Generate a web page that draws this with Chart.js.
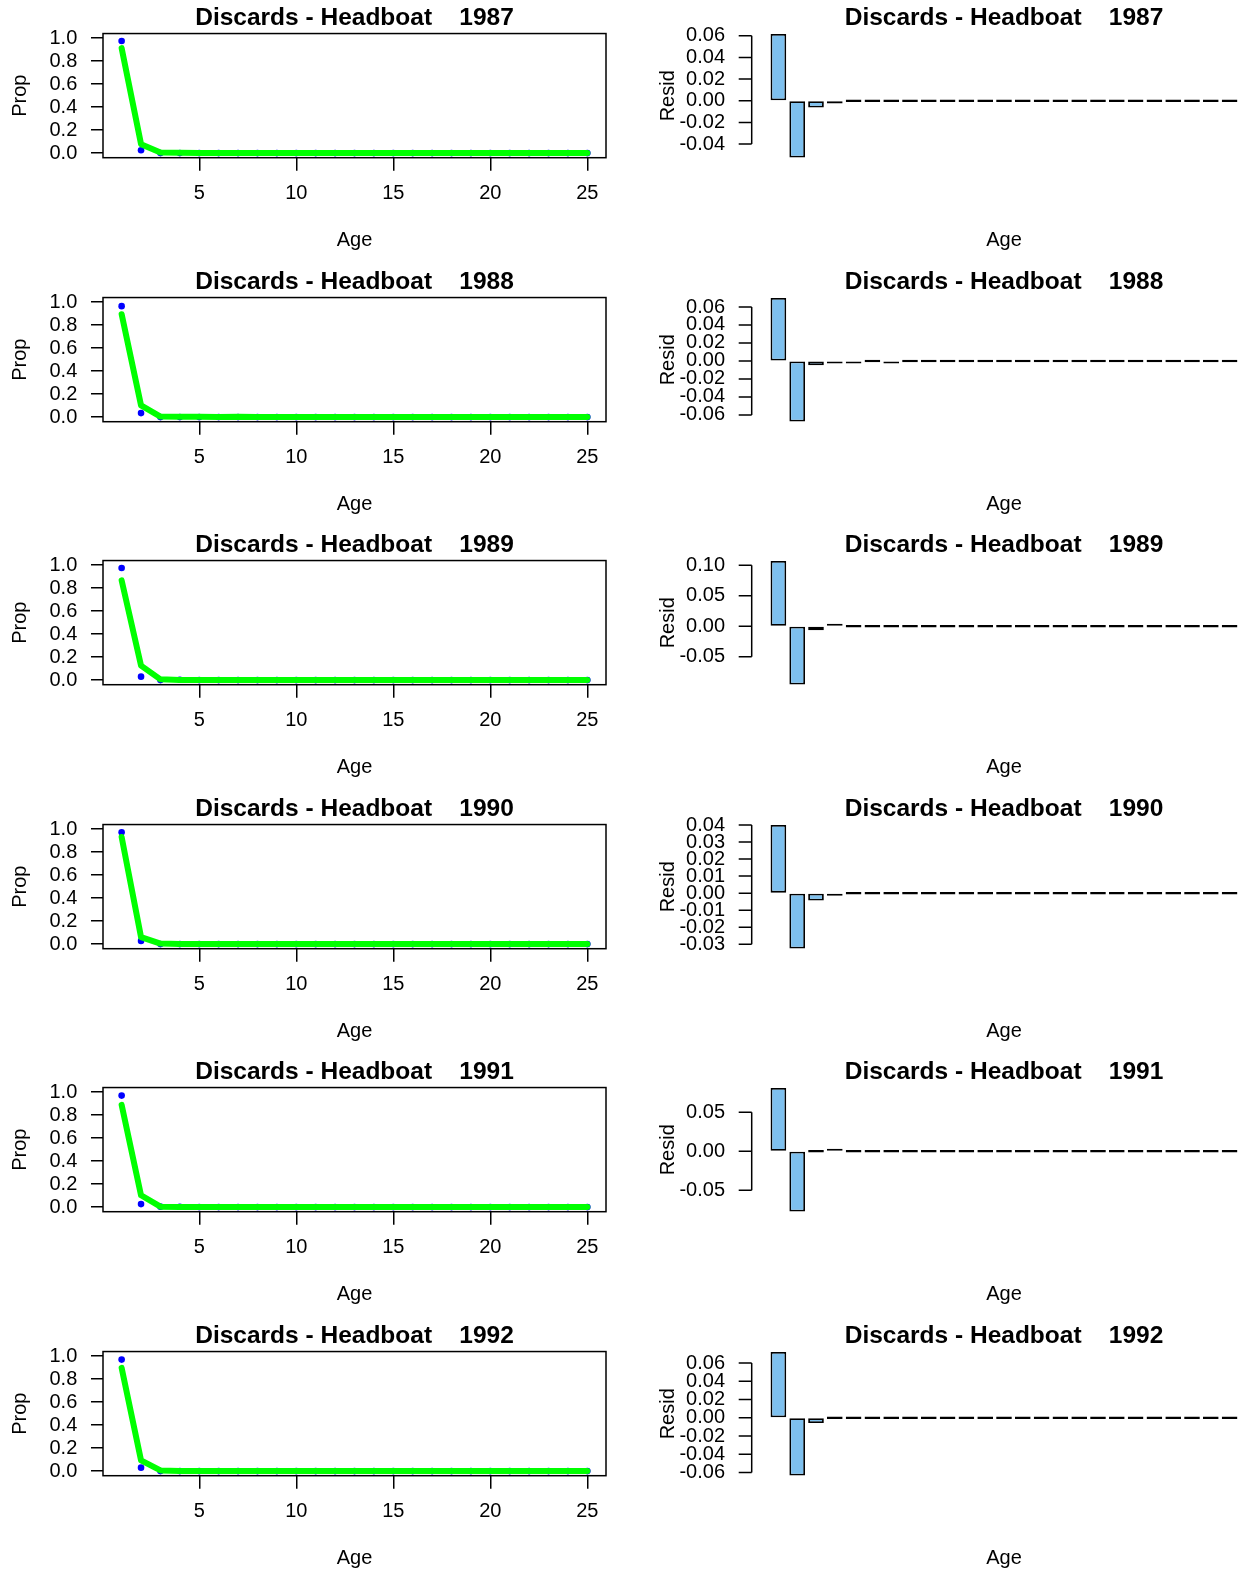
<!DOCTYPE html>
<html>
<head>
<meta charset="utf-8">
<script src="https://cdn.jsdelivr.net/npm/chart.js@4.4.1/dist/chart.umd.min.js"></script>
<style>
  html, body { margin: 0; padding: 0; background: #fff; overflow: hidden; }
  body { width: 1240px; height: 1572px; position: relative; }
  canvas { position: absolute; }
</style>
</head>
<body>
<script>
const years = [1987, 1988, 1989, 1990, 1991, 1992];
const ages = [1, 2, 3, 4, 5, 6, 7, 8, 9, 10, 11, 12, 13, 14, 15, 16, 17, 18, 19, 20, 21, 22, 23, 24, 25];
const ageTicks = [5, 10, 15, 20, 25];
const propTicks = [0, 0.2, 0.4, 0.6, 0.8, 1.0];

// observed proportions (blue dots)
const obs1987 = [0.975, 0.025, 0, 0, 0,  0, 0, 0, 0, 0,  0, 0, 0, 0, 0,  0, 0, 0, 0, 0,  0, 0, 0, 0, 0];
const obs1988 = [0.965, 0.035, 0, 0, 0,  0, 0, 0, 0, 0,  0, 0, 0, 0, 0,  0, 0, 0, 0, 0,  0, 0, 0, 0, 0];
const obs1989 = [0.975, 0.030, 0, 0.003, 0,  0, 0, 0, 0, 0,  0, 0, 0, 0, 0,  0, 0, 0, 0, 0,  0, 0, 0, 0, 0];
const obs1990 = [0.972, 0.028, 0, 0, 0,  0, 0, 0, 0, 0,  0, 0, 0, 0, 0,  0, 0, 0, 0, 0,  0, 0, 0, 0, 0];
const obs1991 = [0.970, 0.026, 0.004, 0.0025, 0,  0, 0, 0, 0, 0,  0, 0, 0, 0, 0,  0, 0, 0, 0, 0,  0, 0, 0, 0, 0];
const obs1992 = [0.970, 0.030, 0, 0, 0,  0, 0, 0, 0, 0,  0, 0, 0, 0, 0,  0, 0, 0, 0, 0,  0, 0, 0, 0, 0];

// predicted proportions (green line)
const pred1987 = [0.913, 0.078, 0.006, 0.0025, 0,  0, 0, 0, 0, 0,  0, 0, 0, 0, 0,  0, 0, 0, 0, 0,  0, 0, 0, 0, 0];
const pred1988 = [0.895, 0.102, 0.005, 0.002, 0.002,  0, 0.002, 0, 0, 0,  0, 0, 0, 0, 0,  0, 0, 0, 0, 0,  0, 0, 0, 0, 0];
const pred1989 = [0.868, 0.126, 0.0065, 0, 0,  0, 0, 0, 0, 0,  0, 0, 0, 0, 0,  0, 0, 0, 0, 0,  0, 0, 0, 0, 0];
const pred1990 = [0.932, 0.061, 0.0043, 0.0012, 0,  0, 0, 0, 0, 0,  0, 0, 0, 0, 0,  0, 0, 0, 0, 0,  0, 0, 0, 0, 0];
const pred1991 = [0.889, 0.103, 0.004, 0, 0,  0, 0, 0, 0, 0,  0, 0, 0, 0, 0,  0, 0, 0, 0, 0,  0, 0, 0, 0, 0];
const pred1992 = [0.898, 0.093, 0.0058, 0, 0,  0, 0, 0, 0, 0,  0, 0, 0, 0, 0,  0, 0, 0, 0, 0,  0, 0, 0, 0, 0];

// residuals (bars)
const resid1987 = [0.0617, -0.0525, -0.0062, -0.0025, 0,  0, 0, 0, 0, 0,  0, 0, 0, 0, 0,  0, 0, 0, 0, 0,  0, 0, 0, 0, 0];
const resid1988 = [0.070, -0.0674, -0.0048, -0.002, -0.002,  0, -0.002, 0, 0, 0,  0, 0, 0, 0, 0,  0, 0, 0, 0, 0,  0, 0, 0, 0, 0];
const resid1989 = [0.107, -0.0958, -0.0065, 0.003, 0,  0, 0, 0, 0, 0,  0, 0, 0, 0, 0,  0, 0, 0, 0, 0,  0, 0, 0, 0, 0];
const resid1990 = [0.040, -0.0325, -0.0043, -0.0012, 0,  0, 0, 0, 0, 0,  0, 0, 0, 0, 0,  0, 0, 0, 0, 0,  0, 0, 0, 0, 0];
const resid1991 = [0.081, -0.0774, 0, 0.0025, 0,  0, 0, 0, 0, 0,  0, 0, 0, 0, 0,  0, 0, 0, 0, 0,  0, 0, 0, 0, 0];
const resid1992 = [0.0722, -0.0634, -0.0058, 0, 0,  0, 0, 0, 0, 0,  0, 0, 0, 0, 0,  0, 0, 0, 0, 0,  0, 0, 0, 0, 0];

const residTicks1987 = [-0.04, -0.02, 0, 0.02, 0.04, 0.06];
const residTicks1988 = [-0.06, -0.04, -0.02, 0, 0.02, 0.04, 0.06];
const residTicks1989 = [-0.05, 0, 0.05, 0.10];
const residTicks1990 = [-0.03, -0.02, -0.01, 0, 0.01, 0.02, 0.03, 0.04];
const residTicks1991 = [-0.05, 0, 0.05];
const residTicks1992 = [-0.06, -0.04, -0.02, 0, 0.02, 0.04, 0.06];

const obsAll = [obs1987, obs1988, obs1989, obs1990, obs1991, obs1992];
const predAll = [pred1987, pred1988, pred1989, pred1990, pred1991, pred1992];
const residAll = [resid1987, resid1988, resid1989, resid1990, resid1991, resid1992];
const residTicksAll = [residTicks1987, residTicks1988, residTicks1989, residTicks1990, residTicks1991, residTicks1992];

Chart.defaults.font.family = "'Liberation Sans', Arial, sans-serif";
Chart.defaults.color = "#000";

const ROW_H = 263.5;
const CANVAS_H = 264;

function makeCanvas(left, top, w, h) {
  const c = document.createElement("canvas");
  c.width = w;
  c.height = h;
  c.style.left = left + "px";
  c.style.top = top + "px";
  document.body.appendChild(c);
  return c.getContext("2d");
}

// box round the plot region, like R's box()
const boxPlugin = {
  id: "box",
  afterDraw(chart) {
    const a = chart.chartArea;
    const ctx = chart.ctx;
    ctx.save();
    ctx.strokeStyle = "#000";
    ctx.lineWidth = 1.5;
    ctx.strokeRect(a.left, a.top, a.right - a.left, a.bottom - a.top);
    ctx.restore();
  },
};

// R style y axis: line from first to last tick, set off left of the bars
const rAxisPlugin = {
  id: "rAxis",
  afterDraw(chart) {
    const s = chart.scales.y;
    const ctx = chart.ctx;
    const x = chart.chartArea.left - 17.3;
    const ys = s.ticks.map((t) => s.getPixelForValue(t.value));
    ctx.save();
    ctx.strokeStyle = "#000";
    ctx.lineWidth = 1.5;
    ctx.beginPath();
    ctx.moveTo(x, Math.min(...ys));
    ctx.lineTo(x, Math.max(...ys));
    ys.forEach((y) => {
      ctx.moveTo(x - 13, y);
      ctx.lineTo(x, y);
    });
    ctx.stroke();
    ctx.restore();
  },
};

years.forEach((year, k) => {
  const top = Math.round(k * ROW_H);
  const obs = obsAll[k];
  const pred = predAll[k];
  const resid = residAll[k];
  const rTicks = residTicksAll[k];
  const titleText = "Discards - Headboat    " + year;

  const ctxLeft = makeCanvas(0, top, 620, CANVAS_H);
  let propChart = new Chart(ctxLeft, {
    type: "line",
    data: {
      datasets: [
        {
          data: ages.map((a, i) => ({ x: a, y: pred[i] })),
          borderColor: "#00ff00",
          borderWidth: 6,
          borderJoinStyle: "round",
          borderCapStyle: "round",
          pointRadius: 0,
          order: 0,
        },
        {
          data: ages.map((a, i) => ({ x: a, y: obs[i] })),
          showLine: false,
          pointRadius: 3.3,
          pointBackgroundColor: "#0000ff",
          pointBorderWidth: 0,
          order: 1,
        },
      ],
    },
    options: {
      responsive: false,
      animation: false,
      events: [],
      layout: { padding: { left: 0, right: 14, top: 0, bottom: 0 } },
      plugins: {
        legend: { display: false },
        tooltip: { enabled: false },
        title: {
          display: true,
          text: titleText,
          fullSize: false,
          color: "#000",
          font: { size: 24.5, weight: "bold", lineHeight: 0.9 },
          padding: { top: 7, bottom: 4.5 },
        },
      },
      scales: {
        x: {
          type: "linear",
          min: 0.04,
          max: 25.96,
          afterBuildTicks: (s) => { s.ticks = ageTicks.map((v) => ({ value: v })); },
          afterFit: (s) => { s.height = 106.3; },
          grid: { drawOnChartArea: false, drawTicks: true, tickLength: 13, color: "#000", lineWidth: 1.5 },
          border: { display: false },
          ticks: { padding: 11, font: { size: 20 }, maxRotation: 0, autoSkip: false, callback: (v) => String(v) },
          title: { display: true, text: "Age", font: { size: 20 }, padding: { top: 0, bottom: 12 } },
        },
        y: {
          min: -0.04,
          max: 1.04,
          afterBuildTicks: (s) => { s.ticks = propTicks.map((v) => ({ value: v })); },
          afterFit: (s) => { s.width = 103; },
          grid: { drawOnChartArea: false, drawTicks: true, tickLength: 12, color: "#000", lineWidth: 1.5 },
          border: { display: false },
          ticks: { padding: 13.7, font: { size: 20 }, autoSkip: false, callback: (v) => v.toFixed(1) },
          title: { display: true, text: "Prop", font: { size: 20 }, padding: { top: 8.8, bottom: 0 } },
        },
      },
    },
    plugins: [boxPlugin],
  });

  const lo = Math.min(...resid);
  const hi = Math.max(...resid);
  const pad = (hi - lo) * 0.04;

  const ctxRight = makeCanvas(620, top, 640, CANVAS_H);
  let residChart = new Chart(ctxRight, {
    type: "bar",
    data: {
      labels: ages,
      datasets: [
        {
          data: resid,
          backgroundColor: "#7ec0ee",
          borderColor: "#000",
          borderWidth: 1.8,
          borderSkipped: false,
          minBarLength: 2.5,
          categoryPercentage: 1,
          barPercentage: 1 / 1.2,
        },
      ],
    },
    options: {
      responsive: false,
      animation: false,
      events: [],
      layout: { padding: { left: 0, right: 21, top: 0, bottom: 0 } },
      plugins: {
        legend: { display: false },
        tooltip: { enabled: false },
        title: {
          display: true,
          text: titleText,
          fullSize: false,
          color: "#000",
          font: { size: 24.5, weight: "bold", lineHeight: 0.9 },
          padding: { top: 7, bottom: 0 },
        },
      },
      scales: {
        x: {
          type: "category",
          offset: true,
          afterFit: (s) => { s.height = 101.5; },
          grid: { display: false, drawTicks: false },
          border: { display: false },
          ticks: { display: false },
          title: { display: true, text: "Age", font: { size: 20 }, padding: { top: 0, bottom: 12 } },
        },
        y: {
          min: lo - pad,
          max: hi + pad,
          afterBuildTicks: (s) => { s.ticks = rTicks.map((v) => ({ value: v })); },
          afterFit: (s) => { s.width = 149; },
          // invisible tick marks only push the labels out to where R puts them
          grid: { display: true, drawOnChartArea: false, drawTicks: true, tickLength: 31, tickColor: "rgba(0,0,0,0)", color: "rgba(0,0,0,0)" },
          border: { display: false },
          ticks: { padding: 13, font: { size: 20 }, autoSkip: false, callback: (v) => v.toFixed(2) },
          title: { display: true, text: "Resid", font: { size: 20 }, padding: { top: 36, bottom: 0 } },
        },
      },
    },
    plugins: [rAxisPlugin],
  });
});
</script>
</body>
</html>
